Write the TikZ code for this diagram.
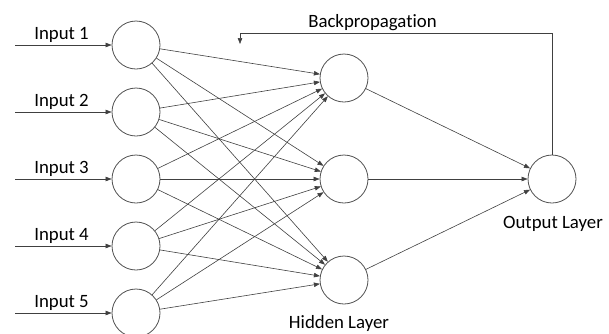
\documentclass[tikz,border=0pt]{standalone}
\usepackage{fontspec}
\setmainfont{Carlito}[Ligatures=NoCommon]
\usetikzlibrary{arrows.meta}
\definecolor{linegray}{HTML}{404040}
\definecolor{circgray}{HTML}{505050}
\tikzset{
  neuron/.style={circle,draw=circgray,line width=0.8pt,minimum size=48pt,inner sep=0pt,fill=white},
  conn/.style={draw=linegray,line width=0.6pt,-{Triangle[length=6pt,width=4.5pt]}},
  lbl/.style={font=\fontsize{18.8}{22}\selectfont,text=black,inner sep=0pt,anchor=base}
}
\begin{document}
\begin{tikzpicture}[x=1pt,y=-1pt]
\useasboundingbox (0,0) rectangle (609,333);
\clip (0,0) rectangle (609,333);
% input neurons
\foreach \i/\y in {1/45,2/112,3/179,4/246,5/313}{
  \node[neuron] (in\i) at (136,\y) {};
  \coordinate (s\i) at (15,\y);
  \node[lbl] (l\i) at (61.5,\y-6) {Input \i};
}
\node[neuron] (h1) at (344,78) {};
\node[neuron] (h2) at (344,179) {};
\node[neuron] (h3) at (344,280) {};
\node[neuron] (o) at (552,179) {};
\foreach \i in {1,...,5}{
  \draw[conn] (s\i) -- (in\i);
  \foreach \j in {1,2,3}{
    \draw[conn] (in\i) -- (h\j);
  }
}
\foreach \j in {1,2,3}{
  \draw[conn] (h\j) -- (o);
}
\coordinate (bp1) at (552,33);
\coordinate (bp2) at (240,33);
\coordinate (bp3) at (240,44);
\draw[conn] (o.north) -- (bp1) -- (bp2) -- (bp3);
\node[lbl] (bpl) at (372.5,27) {Backpropagation};
\node[lbl] (hl) at (339,328) {Hidden Layer};
\node[lbl] (ol) at (553,228) {Output Layer};
\end{tikzpicture}
\end{document}
